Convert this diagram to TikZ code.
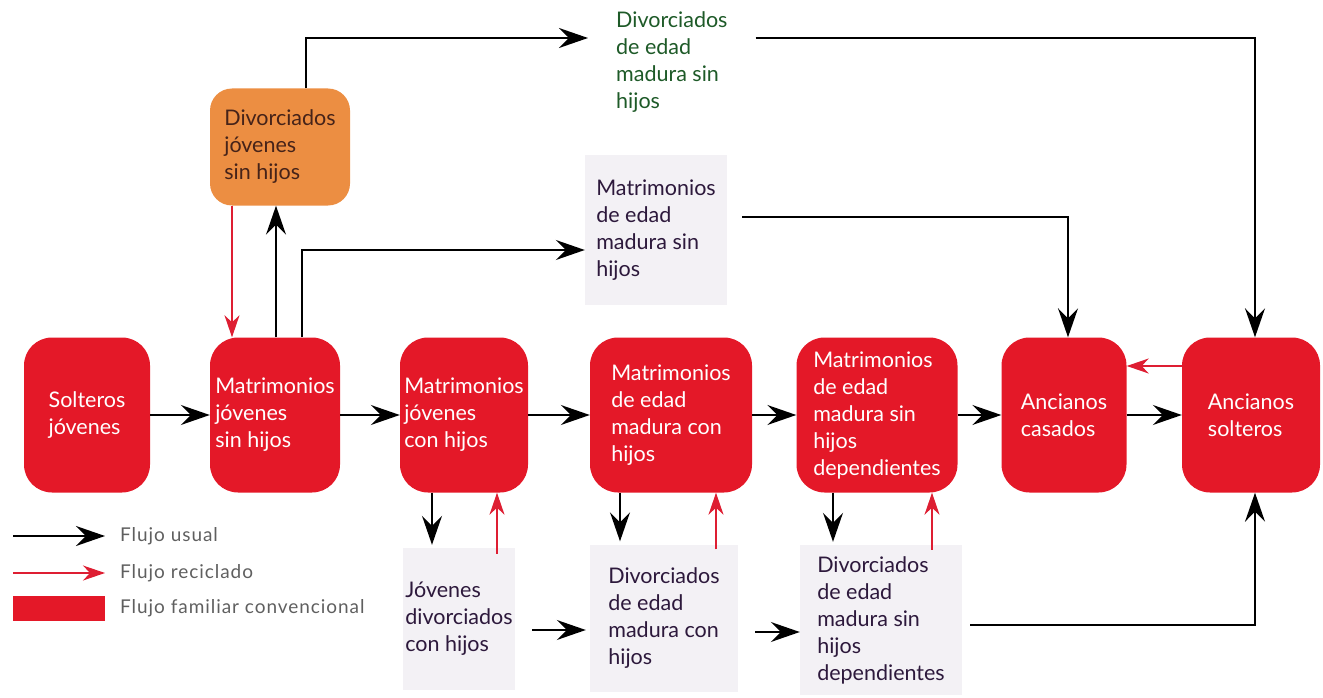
\documentclass[tikz,border=0pt]{standalone}
\usepackage{fontspec}
\setmainfont{Lato}
\usetikzlibrary{arrows.meta,calc}
\definecolor{boxred}{RGB}{228,24,40}
\definecolor{arrred}{RGB}{222,30,50}
\definecolor{boxorange}{RGB}{236,142,66}
\definecolor{greyfill}{RGB}{243,241,245}
\definecolor{txtpurple}{RGB}{45,25,60}
\definecolor{txtgreen}{RGB}{30,90,40}
\definecolor{txtbrown}{RGB}{70,35,25}
\definecolor{leggrey}{RGB}{95,95,95}
\begin{document}
\begin{tikzpicture}[x=1pt,y=-1pt,
  boxfont/.style={font=\fontsize{21.5}{27}\selectfont},
  redbox/.style={boxfont,fill=boxred,rounded corners=28pt,minimum height=155pt,text=white,align=left,inner sep=0pt},
  greybox/.style={boxfont,fill=greyfill,align=left,inner sep=0pt,text=txtpurple},
  orangebox/.style={boxfont,fill=boxorange,rounded corners=22pt,align=left,inner sep=0pt,text=txtbrown,minimum width=140pt,minimum height=117pt},
  usual/.style={line width=1.8pt,-{Stealth[length=29pt,width=20pt,inset=10pt]}},
  recy/.style={draw=arrred,line width=1.3pt,-{Stealth[length=22pt,width=15pt,inset=7pt]}},
  legtext/.style={font=\fontsize{19}{22}\selectfont\addfontfeatures{LetterSpace=5},text=leggrey,anchor=west,inner xsep=15pt,inner ysep=0pt}
]
\useasboundingbox (0,0) rectangle (1323,698);

% main red boxes
\node[redbox,minimum width=126pt] (sj) at (87,415) {Solteros\\jóvenes};
\node[redbox,minimum width=130pt] (mjs) at (275,415) {Matrimonios\\jóvenes\\sin hijos};
\node[redbox,minimum width=128pt] (mjc) at (464,415) {Matrimonios\\jóvenes\\con hijos};
\node[redbox,minimum width=162pt] (mec) at (671,415) {Matrimonios\\de edad\\madura con\\hijos};
\node[redbox,minimum width=161pt] (mesd) at (877,415) {Matrimonios\\de edad\\madura sin\\hijos\\dependientes};
\node[redbox,minimum width=125pt] (ac) at (1064,415) {Ancianos\\casados};
\node[redbox,minimum width=138pt] (as) at (1251,415) {Ancianos\\solteros};

% upper boxes
\node[orangebox] (djs) at (280,147) {Divorciados\\jóvenes\\sin hijos};
\node[boxfont,text=txtgreen,align=left,anchor=west,inner xsep=28pt,inner ysep=0pt] (dem) at (588,62) {Divorciados\\de edad\\madura sin\\hijos};
\node[greybox,minimum width=142pt,minimum height=150pt] (memsh) at (656,230) {Matrimonios\\de edad\\madura sin\\hijos};

% lower boxes
\node[greybox,minimum width=112pt,minimum height=142pt] (jdc) at (459,619) {Jóvenes\\divorciados\\con hijos};
\node[greybox,minimum width=148pt,minimum height=147pt] (dmc) at (664,618) {Divorciados\\de edad\\madura con\\hijos};
\node[greybox,minimum width=162pt,minimum height=150pt] (dmsd) at (881,620) {Divorciados\\de edad\\madura sin\\hijos\\dependientes};

% main flow
\draw[usual] (sj) -- (mjs);
\draw[usual] (mjs) -- (mjc);
\draw[usual] (mjc) -- (mec);
\draw[usual] (mec) -- (mesd);
\draw[usual] (mesd) -- (ac);
\draw[usual] (ac) -- (as);
\draw[recy] ([yshift=49pt]as.west) -- ([yshift=49pt]ac.east);

% upper flows
\draw[usual] ([xshift=1pt]mjs.north) -- ([xshift=-4pt]djs.south);
\draw[recy] ([xshift=-48pt]djs.south) -- ([xshift=-43pt]mjs.north);
\draw[usual] ([xshift=27pt]mjs.north) |- ([yshift=-20pt]memsh.west);
\draw[usual] ([xshift=26pt]djs.north) |- ([yshift=24pt]dem.west);
\draw[usual] ([yshift=24pt]dem.east) -| ([xshift=4pt]as.north);
\draw[usual] ([xshift=15pt,yshift=13pt]memsh.east) -| ([xshift=4pt]ac.north);

% lower flows
\draw[usual] ([xshift=-32pt]mjc.south) -- ([xshift=-27pt,yshift=3pt]jdc.north);
\draw[recy] ([xshift=38pt,yshift=-6pt]jdc.north) -- ([xshift=33pt]mjc.south);
\draw[usual] ([xshift=-51pt]mec.south) -- ([xshift=-44pt,yshift=3pt]dmc.north);
\draw[recy] ([xshift=52pt,yshift=-5pt]dmc.north) -- ([xshift=45pt]mec.south);
\draw[usual] ([xshift=-44pt]mesd.south) -- ([xshift=-48pt,yshift=3pt]dmsd.north);
\draw[recy] ([xshift=51pt,yshift=-5pt]dmsd.north) -- ([xshift=55pt]mesd.south);
\draw[usual] ([xshift=17pt,yshift=-11pt]jdc.east) -- ([xshift=-4pt,yshift=-12pt]dmc.west);
\draw[usual] ([xshift=17pt,yshift=-14pt]dmc.east) -- ([yshift=-12pt]dmsd.west);
\draw[usual] ([xshift=8pt,yshift=-5pt]dmsd.east) -| ([xshift=4pt]as.south);

% legend
\coordinate (l1) at (13,536);
\coordinate (l2) at (13,573);
\node[legtext] (leg1) at (105,536) {Flujo usual};
\node[legtext] (leg2) at (105,573) {Flujo reciclado};
\node[fill=boxred,minimum width=92pt,minimum height=25pt,inner sep=0pt] (legrect) at (59,608) {};
\node[legtext] (leg3) at (105,608) {Flujo familiar convencional};
\draw[usual] (l1) -- (leg1.west);
\draw[recy] (l2) -- (leg2.west);
\end{tikzpicture}
\end{document}
